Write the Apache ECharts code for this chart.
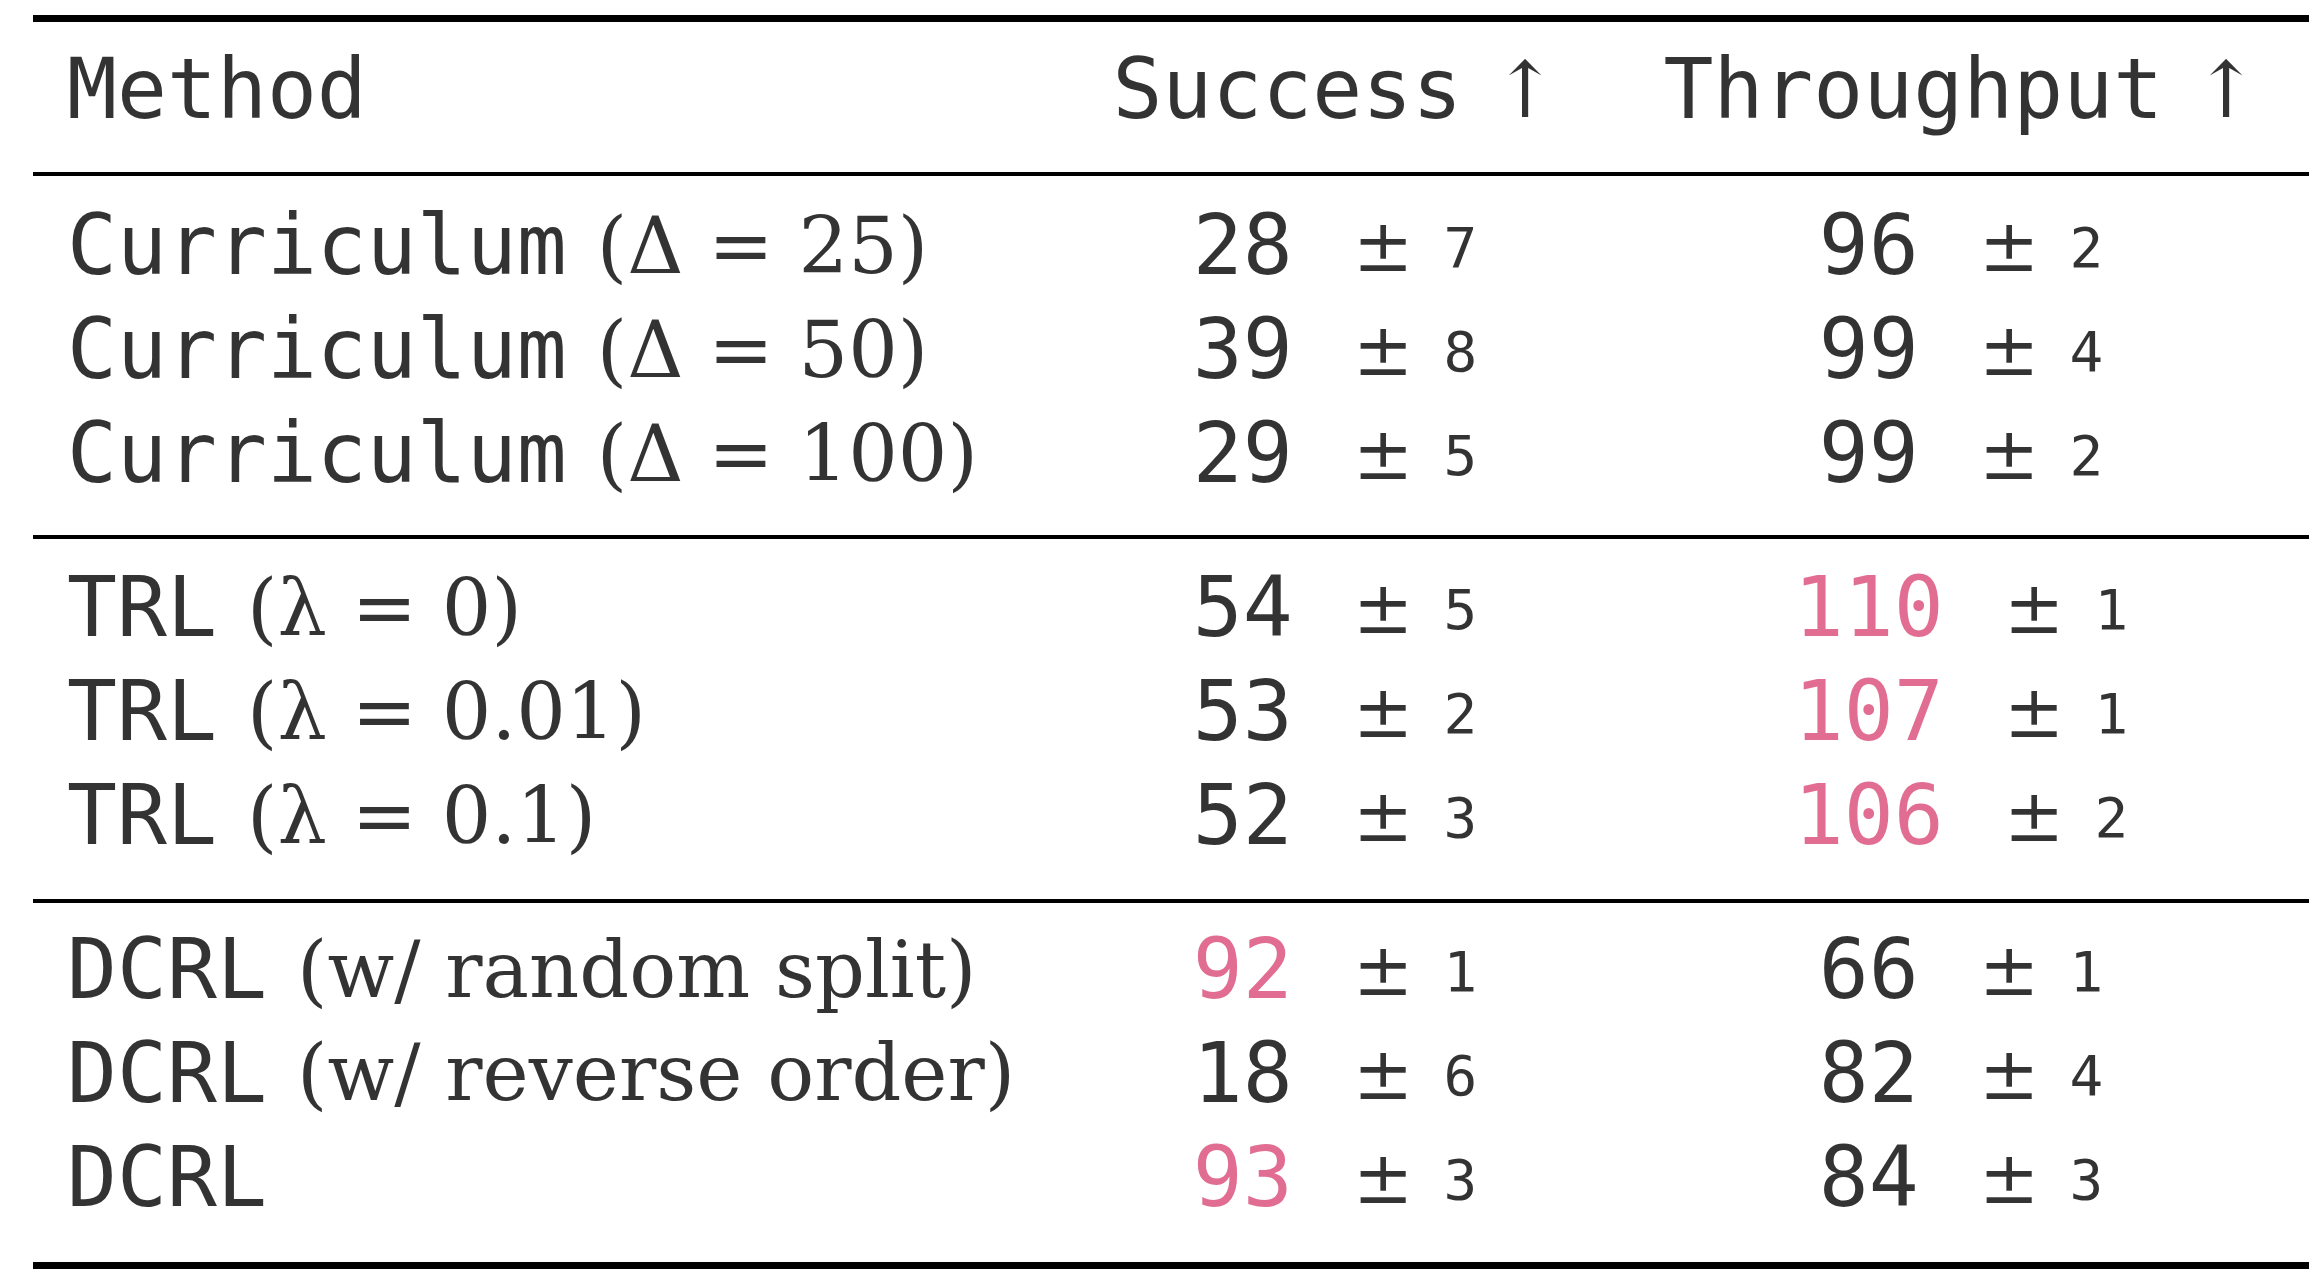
<!DOCTYPE html>
<html><head><meta charset="utf-8">
<script src="https://cdn.jsdelivr.net/npm/echarts@6/dist/echarts.min.js"></script>
<style>html,body{margin:0;background:#fff}#c{width:2322px;height:1284px}</style>
</head><body><div id="c"></div>
<script>
const headers = ['Method', 'Success', 'Throughput'];
const methodNames = ['Curriculum','Curriculum','Curriculum','TRL','TRL','TRL','DCRL','DCRL','DCRL'];
const methodParams = ['(Δ = 25)','(Δ = 50)','(Δ = 100)','(λ = 0)','(λ = 0.01)','(λ = 0.1)','(w/ random split)','(w/ reverse order)',''];
const groups = [0,0,0,1,1,1,2,2,2];
const successMean = [28,39,29,54,53,52,92,18,93];
const successStd = [7,8,5,5,2,3,1,6,3];
const throughputMean = [96,99,99,110,107,106,66,82,84];
const throughputStd = [2,4,2,1,1,2,1,4,3];
const successBest = [false,false,false,false,false,false,true,false,true];
const throughputBest = [false,false,false,true,true,true,false,false,false];

const PINK = '#d94a77';
const S = '\u00a0';
const rowY = (k,g)=>1.5+k+0.48*g;
const colX = {method:34, success:1302, throughput:1928};
const rich = {
  tt:{fontFamily:'DejaVu Sans Mono',fontSize:83,color:'#000'},
  rm:{fontFamily:'DejaVu Serif',fontSize:78,color:'#000'},
  sp:{fontFamily:'DejaVu Sans Mono',fontSize:50,color:'#000'},
  num:{fontFamily:'DejaVu Sans Mono',fontSize:83,color:'#000'},
  best:{fontFamily:'DejaVu Sans Mono',fontSize:83,color:PINK},
  pm:{fontFamily:'DejaVu Serif',fontSize:72,color:'#000'},
  sm:{fontFamily:'DejaVu Sans Mono',fontSize:56,color:'#000'}
};
const gap = '{sp|'+S+S+'}';
const num = (v,b,s)=>'{'+(b?'best':'num')+'|'+v+'}'+gap+'{pm|±}{sp|'+S+'}{sm|'+s+'}';
const pts = [];
pts.push({value:[colX.method,0],label:{align:'left',formatter:'{tt|'+headers[0]+'}'}});
pts.push({value:[colX.success,0],label:{align:'center',formatter:'{tt|'+headers[1]+'}{sp|'+S+'}{rm|↑}'}});
pts.push({value:[colX.throughput,0],label:{align:'center',formatter:'{tt|'+headers[2]+'}{sp|'+S+'}{rm|↑}'}});
methodNames.forEach((n,k)=>{
  const y=rowY(k,groups[k]);
  pts.push({value:[colX.method,y],label:{align:'left',formatter:'{tt|'+n+'}'+(methodParams[k]?'{sp|'+S+'}{rm|'+methodParams[k].replace(/ /g,S)+'}':'')}});
  pts.push({value:[colX.success,y],label:{align:'center',formatter:num(successMean[k],successBest[k],successStd[k])}});
  pts.push({value:[colX.throughput,y],label:{align:'center',formatter:num(throughputMean[k],throughputBest[k],throughputStd[k])}});
});
const rules = [[-0.75,7],[0.74,4],[4.23,4],[7.73,4],[11.24,7]];
const chart = echarts.init(document.getElementById('c'));
chart.setOption({
  animation:false,
  grid:{left:33,right:13,top:0,bottom:0},
  xAxis:{type:'value',min:0,max:2276,show:false},
  yAxis:{type:'value',min:-0.75-0.18,max:11.24+0.18,inverse:true,show:false},
  series:[{type:'scatter',symbolSize:0,data:pts,
    label:{show:true,position:'inside',verticalAlign:'middle',color:'#000',rich:rich},
    markLine:{silent:true,symbol:'none',label:{show:false},
      data:rules.map(r=>({yAxis:r[0],lineStyle:{color:'#000',width:r[1],type:'solid'}}))}
  }]
});
</script></body></html>
